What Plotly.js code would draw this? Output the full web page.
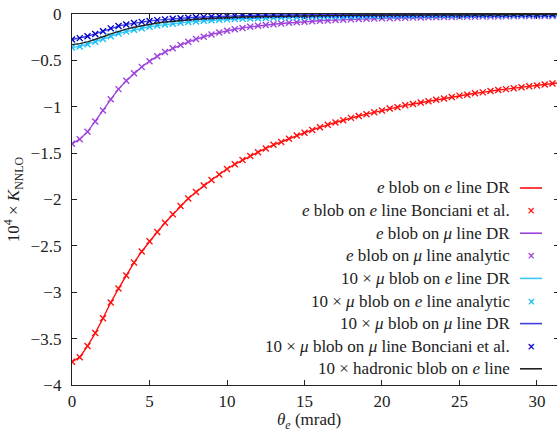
<!DOCTYPE html>
<html>
<head>
<meta charset="utf-8">
<script src="https://cdn.plot.ly/plotly-3.0.1.min.js"></script>
<style>
html,body{margin:0;padding:0;overflow:hidden;background:#fff;}
#chart{width:559px;height:431px;}
</style>
</head>
<body>
<div id="chart"></div>
<script>
// theta_e (mrad)
const theta = [0,0.5,1,1.5,2,2.5,3,3.5,4,4.5,5,5.5,6,6.5,7,7.5,8,8.5,9,9.5,
  10,10.5,11,11.5,12,12.5,13,13.5,14,14.5,15,15.5,16,16.5,17,17.5,18,18.5,19,19.5,
  20,20.5,21,21.5,22,22.5,23,23.5,24,24.5,25,25.5,26,26.5,27,27.5,28,28.5,29,29.5,
  30,30.5,31,31.5];

// e blob on e line
const eBlobOnELine = [-3.75,-3.70,-3.58,-3.44,-3.28,-3.11,-2.96,-2.82,-2.68,-2.56,
  -2.45,-2.35,-2.25,-2.16,-2.07,-1.99,-1.92,-1.85,-1.79,-1.73,
  -1.67,-1.62,-1.575,-1.53,-1.49,-1.45,-1.41,-1.38,-1.345,-1.31,
  -1.28,-1.25,-1.22,-1.195,-1.17,-1.145,-1.12,-1.10,-1.08,-1.06,
  -1.04,-1.02,-1.005,-0.985,-0.97,-0.955,-0.94,-0.925,-0.91,-0.895,
  -0.88,-0.87,-0.855,-0.845,-0.83,-0.82,-0.81,-0.80,-0.79,-0.78,
  -0.77,-0.76,-0.75,-0.74];

// e blob on mu line
const eBlobOnMuLine = [-1.40,-1.35,-1.27,-1.16,-1.04,-0.92,-0.81,-0.72,-0.64,-0.57,
  -0.51,-0.455,-0.41,-0.37,-0.335,-0.30,-0.27,-0.245,-0.22,-0.20,
  -0.18,-0.165,-0.15,-0.138,-0.127,-0.118,-0.11,-0.102,-0.095,-0.089,
  -0.083,-0.078,-0.073,-0.069,-0.065,-0.061,-0.058,-0.055,-0.052,-0.049,
  -0.047,-0.045,-0.043,-0.041,-0.039,-0.037,-0.036,-0.034,-0.033,-0.032,
  -0.031,-0.030,-0.029,-0.028,-0.027,-0.026,-0.025,-0.024,-0.023,-0.023,
  -0.022,-0.021,-0.021,-0.020];

// 10 x mu blob on e line
const muBlobOnELine = [-0.36,-0.35,-0.325,-0.30,-0.27,-0.24,-0.21,-0.19,-0.17,-0.153,
  -0.138,-0.125,-0.114,-0.104,-0.095,-0.087,-0.080,-0.074,-0.068,-0.063,
  -0.058,-0.054,-0.051,-0.048,-0.045,-0.042,-0.040,-0.038,-0.036,-0.034,
  -0.032,-0.031,-0.029,-0.028,-0.027,-0.026,-0.025,-0.024,-0.023,-0.022,
  -0.021,-0.020,-0.0195,-0.019,-0.018,-0.0175,-0.017,-0.0165,-0.016,-0.0155,
  -0.015,-0.0145,-0.014,-0.0137,-0.0133,-0.013,-0.0126,-0.0123,-0.012,-0.0117,
  -0.0114,-0.0111,-0.0108,-0.0105];

// 10 x mu blob on mu line
const muBlobOnMuLine = [-0.275,-0.26,-0.24,-0.215,-0.185,-0.155,-0.13,-0.112,-0.097,-0.085,
  -0.075,-0.066,-0.058,-0.051,-0.045,-0.040,-0.035,-0.031,-0.027,-0.024,
  -0.021,-0.019,-0.017,-0.015,-0.0135,-0.012,-0.011,-0.010,-0.009,-0.0083,
  -0.0077,-0.0071,-0.0066,-0.0062,-0.0058,-0.0054,-0.0051,-0.0048,-0.0045,-0.0043,
  -0.0041,-0.0039,-0.0037,-0.0035,-0.0034,-0.0032,-0.0031,-0.0030,-0.0029,-0.0028,
  -0.0027,-0.0026,-0.0025,-0.0024,-0.0023,-0.0022,-0.0022,-0.0021,-0.0020,-0.0020,
  -0.0019,-0.0018,-0.0018,-0.0017];

// 10 x hadronic blob on e line
const hadBlobOnELine = [-0.33,-0.32,-0.30,-0.275,-0.245,-0.215,-0.185,-0.163,-0.143,-0.125,
  -0.11,-0.097,-0.086,-0.077,-0.069,-0.062,-0.056,-0.051,-0.046,-0.042,
  -0.038,-0.035,-0.032,-0.030,-0.028,-0.026,-0.024,-0.022,-0.021,-0.020,
  -0.019,-0.018,-0.017,-0.016,-0.0153,-0.0146,-0.014,-0.0134,-0.0128,-0.0123,
  -0.0118,-0.0114,-0.011,-0.0106,-0.0102,-0.0099,-0.0096,-0.0093,-0.009,-0.0087,
  -0.0085,-0.0082,-0.008,-0.0078,-0.0076,-0.0074,-0.0072,-0.007,-0.0068,-0.0067,
  -0.0065,-0.0064,-0.0062,-0.0061];

const legendLabels = [
  "<i>e</i> blob on <i>e</i> line DR",
  "<i>e</i> blob on <i>e</i> line Bonciani et al.",
  "<i>e</i> blob on <i>μ</i> line DR",
  "<i>e</i> blob on <i>μ</i> line analytic",
  "10 × <i>μ</i> blob on <i>e</i> line DR",
  "10 × <i>μ</i> blob on <i>e</i> line analytic",
  "10 × <i>μ</i> blob on <i>μ</i> line DR",
  "10 × <i>μ</i> blob on <i>μ</i> line Bonciani et al.",
  "10 × hadronic blob on <i>e</i> line"
];
const xTitle = "<i>θ</i><sub><i>e</i></sub> (mrad)";
const yTitle = "10<sup>4</sup> × <i>K</i><sub>NNLO</sub>";

const FONT = "Liberation Serif";
const FS = 17;
const RED = "#ff1010", PURPLE = "#9d44dc", CYAN = "#3cc8ff", CYANM = "#10bff8",
      BLUE = "#4040e0", BLUEM = "#0000c8", BLACK = "#222222";

function lineTrace(y, color, name) {
  return {x: theta, y: y, type: "scatter", mode: "lines", name: name,
    line: {color: color, width: 1.4}, showlegend: false, hoverinfo: "skip"};
}
function markTrace(y, color, name) {
  return {x: theta, y: y, type: "scatter", mode: "markers", name: name,
    marker: {symbol: "x-thin", size: 6, line: {width: 1.4, color: color}, color: color},
    showlegend: false, hoverinfo: "skip"};
}

const traces = [
  lineTrace(eBlobOnELine, RED, legendLabels[0]),
  markTrace(eBlobOnELine, RED, legendLabels[1]),
  lineTrace(eBlobOnMuLine, PURPLE, legendLabels[2]),
  markTrace(eBlobOnMuLine, PURPLE, legendLabels[3]),
  lineTrace(muBlobOnELine, CYAN, legendLabels[4]),
  markTrace(muBlobOnELine, CYANM, legendLabels[5]),
  lineTrace(muBlobOnMuLine, BLUE, legendLabels[6]),
  markTrace(muBlobOnMuLine, BLUEM, legendLabels[7]),
  lineTrace(hadBlobOnELine, BLACK, legendLabels[8])
];

// manual legend (text right-aligned, symbol on the right)
const symKinds = ["line","mark","line","mark","line","mark","line","mark","line"];
const symColors = [RED, RED, PURPLE, PURPLE, CYAN, CYANM, BLUE, BLUEM, BLACK];
const plotL = 72, plotW = 487, plotT = 14, plotH = 371;
const px2x = p => (p - plotL) / plotW;
const py2y = p => (plotT + plotH - p) / plotH;
const annotations = [], shapes = [];
legendLabels.forEach((lab, i) => {
  const rowY = 188 + i * 22.6;
  annotations.push({xref: "paper", yref: "paper", x: px2x(512), y: py2y(rowY),
    xanchor: "right", yanchor: "middle", showarrow: false, text: lab,
    font: {family: FONT, size: FS, color: "#222"}});
  if (symKinds[i] === "line") {
    shapes.push({type: "line", xref: "paper", yref: "paper",
      x0: px2x(520), x1: px2x(542), y0: py2y(rowY), y1: py2y(rowY),
      line: {color: symColors[i], width: 1.6}});
  } else {
    annotations.push({xref: "paper", yref: "paper", x: px2x(531), y: py2y(rowY),
      xanchor: "center", yanchor: "middle", showarrow: false, text: "<b>×</b>",
      font: {family: "DejaVu Sans", size: 10, color: symColors[i]}});
  }
});
// x-axis title placed below the tick labels
annotations.push({xref: "paper", yref: "paper", x: px2x(309), y: py2y(434),
  xanchor: "center", yanchor: "bottom", showarrow: false, text: xTitle,
  font: {family: FONT, size: FS, color: "#222"}});

const layout = {
  width: 559, height: 431,
  margin: {l: plotL, r: 0, t: plotT, b: 46},
  paper_bgcolor: "#fff", plot_bgcolor: "#fff",
  showlegend: false,
  font: {family: FONT, size: FS, color: "#222"},
  xaxis: {range: [0, 31.42], tickvals: [0,5,10,15,20,25,30], ticks: "inside", ticklen: 5,
    tickcolor: "#222", showline: true, mirror: "ticks", linecolor: "#222", linewidth: 1.2,
    showgrid: false, zeroline: false, ticklabelstandoff: 0,
    tickfont: {family: FONT, size: FS, color: "#222"}},
  yaxis: {range: [-4, 0], dtick: 0.5, ticks: "inside", ticklen: 5,
    tickcolor: "#222", showline: true, mirror: "ticks", linecolor: "#222", linewidth: 1.2,
    showgrid: false, zeroline: false, ticklabelstandoff: 6,
    tickfont: {family: FONT, size: FS, color: "#222"},
    title: {text: yTitle, standoff: 6,
      font: {family: FONT, size: FS, color: "#222"}}},
  annotations: annotations,
  shapes: shapes
};

Plotly.newPlot("chart", traces, layout, {staticPlot: true, displayModeBar: false});
</script>
</body>
</html>
